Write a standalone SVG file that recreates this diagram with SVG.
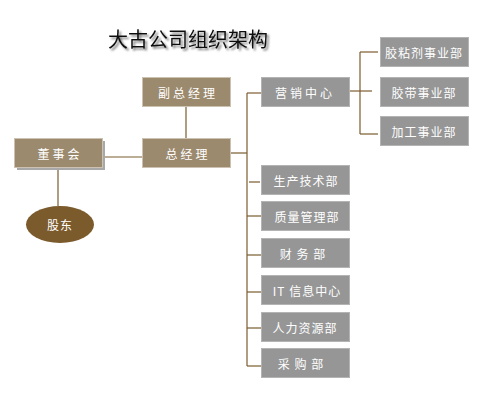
<svg xmlns="http://www.w3.org/2000/svg" width="500" height="400" viewBox="0 0 500 400">
<defs>
<filter id="tsh" x="-10%" y="-30%" width="120%" height="160%">
<feGaussianBlur in="SourceAlpha" stdDeviation="1.3" result="b"/>
<feOffset in="b" dx="2" dy="2" result="o"/>
<feFlood flood-color="#000" flood-opacity="0.55"/>
<feComposite in2="o" operator="in" result="s"/>
<feMerge><feMergeNode in="s"/><feMergeNode in="SourceGraphic"/></feMerge>
</filter>
</defs>
<style>
.brown{fill:#9c8a6e;stroke:#cbc2b2;stroke-width:1}
.gray{fill:#969696;stroke:#b4b4b4;stroke-width:1}
.t{fill:#fff;font-family:"Noto Sans CJK SC","Noto Sans",sans-serif;font-size:12px;text-anchor:middle;dominant-baseline:central}
.w{letter-spacing:3px}
.n{letter-spacing:1px}
.ln{stroke:#7b5c2e;stroke-width:1.2;fill:none}
</style>
<rect width="500" height="400" fill="#fff"/>
<text x="108" y="47" font-family="&quot;Noto Sans CJK SC&quot;,sans-serif" font-size="20" fill="#111" filter="url(#tsh)">大古公司组织架构</text>
<g id="connectors">
<path class="ln" d="M186 106V138"/>
<path class="ln" d="M102 157H142"/>
<path class="ln" d="M58 169V206"/>
<path class="ln" d="M230 153H247"/>
<path class="ln" d="M247 93V366"/>
<path class="ln" d="M247 93H261"/>
<path class="ln" d="M349 91H372"/>
<path class="ln" d="M360 52V134"/>
<path class="ln" d="M360 52H378"/>
<path class="ln" d="M360 134H378"/>
<path class="ln" d="M249 182H260"/>
<path class="ln" d="M247 216H261"/>
<path class="ln" d="M247 255H261"/>
<path class="ln" d="M247 292H261"/>
<path class="ln" d="M247 328H261"/>
<path class="ln" d="M247 366H261"/>
</g>
<g id="dongshihui">
<rect x="17" y="141" width="88" height="29" fill="#a8a8a8"/>
<rect class="brown" x="14.5" y="138.5" width="88" height="29"/>
<text class="t w" x="60" y="153">董事会</text>
</g>
<g id="gudong">
<ellipse cx="60" cy="224.5" rx="34" ry="18.5" fill="#7b5a2c"/>
<text class="t n" x="60" y="224.5">股东</text>
</g>
<g id="fuzongjingli">
<rect class="brown" x="142.5" y="77.5" width="88" height="29"/>
<text class="t w" x="188" y="92">副总经理</text>
</g>
<g id="zongjingli">
<rect class="brown" x="142.5" y="138.5" width="88" height="29"/>
<text class="t w" x="188" y="153">总经理</text>
</g>
<g id="yingxiao">
<rect class="gray" x="261.5" y="77.5" width="88" height="29"/>
<text class="t w" x="305" y="92">营销中心</text>
</g>
<g id="jiaonianji">
<rect class="gray" x="380.5" y="37.5" width="88" height="29"/>
<text class="t n" x="424" y="52">胶粘剂事业部</text>
</g>
<g id="jiaodai">
<rect class="gray" x="380.5" y="77.5" width="88" height="29"/>
<text class="t n" x="424" y="92">胶带事业部</text>
</g>
<g id="jiagong">
<rect class="gray" x="380.5" y="116.5" width="88" height="29"/>
<text class="t n" x="424" y="131">加工事业部</text>
</g>
<g id="shengchan">
<rect class="gray" x="261.5" y="165.5" width="88" height="29"/>
<text class="t n" x="306" y="180">生产技术部</text>
</g>
<g id="zhiliang">
<rect class="gray" x="261.5" y="201.5" width="88" height="29"/>
<text class="t n" x="307" y="216">质量管理部</text>
</g>
<g id="caiwu">
<rect class="gray" x="261.5" y="238.5" width="88" height="29"/>
<text class="t n" x="303" y="253">财 务 部</text>
</g>
<g id="it">
<rect class="gray" x="261.5" y="275.5" width="88" height="29"/>
<text class="t n" x="307" y="290">IT 信息中心</text>
</g>
<g id="renli">
<rect class="gray" x="261.5" y="312.5" width="88" height="29"/>
<text class="t n" x="305" y="327">人力资源部</text>
</g>
<g id="caigou">
<rect class="gray" x="261.5" y="348.5" width="88" height="29"/>
<text class="t n" x="301" y="363">采 购 部</text>
</g>
</svg>
